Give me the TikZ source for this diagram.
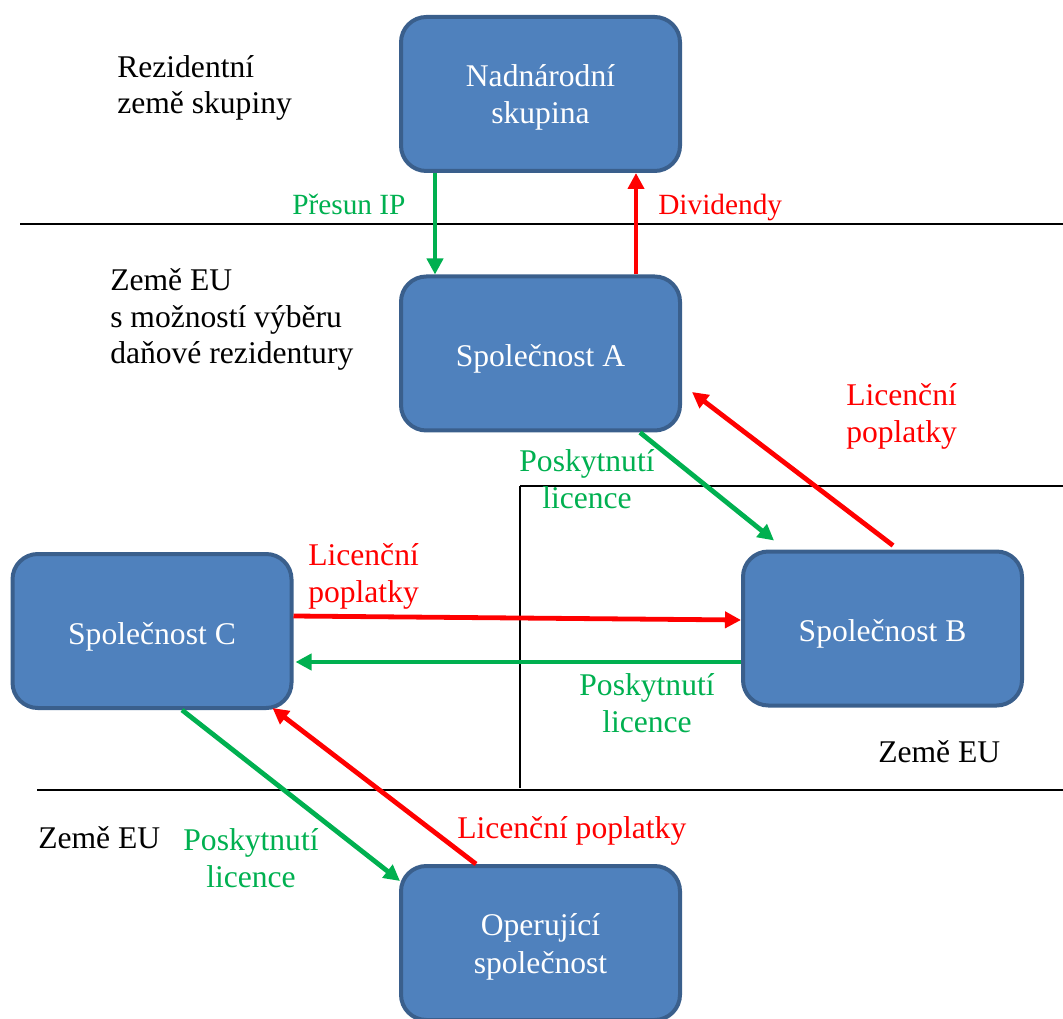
\documentclass[tikz,border=0pt]{standalone}
\usepackage{fontspec}
\setmainfont{Liberation Serif}
\usetikzlibrary{arrows.meta,calc}
\definecolor{boxfill}{RGB}{79,129,189}
\definecolor{boxline}{RGB}{58,95,140}
\definecolor{licgreen}{RGB}{0,176,80}
\definecolor{feered}{RGB}{255,0,0}

\begin{document}
\begin{tikzpicture}[x=0.75pt,y=-0.75pt,
  entity/.style={draw=boxline, line width=3pt, fill=boxfill,
    rounded corners=19pt, minimum width={279*0.75pt}, minimum height={154*0.75pt},
    text=white, align=center, inner sep=0pt,
    font=\fontsize{23.7}{27.8}\selectfont},
  oneline/.style={text height=24.8pt, text depth=5.2pt},
  twoline/.style={text height=50.2pt, text depth=5.2pt},
  lbl/.style={inner sep=0pt, font=\fontsize{23.7}{27.6}\selectfont},
  smalllbl/.style={inner sep=0pt, font=\fontsize{22}{26}\selectfont},
  flow/.style={line width=3.6pt, -{Triangle[length=12pt,width=12pt]}},
  licflow/.style={flow, draw=licgreen},
  feeflow/.style={flow, draw=feered},
  border/.style={line width=1.6pt, draw=black}
]
\useasboundingbox (0,0) rectangle (1063,1019);

% country borders
\draw[border] (20,224) -- (1063,224);
\draw[border] (520,486) -- (1063,486);
\draw[border] (520,486) -- (520,788);
\draw[border] (37,790) -- (1063,790);

% companies
\node[entity, twoline] (grp) at (540.5,94)    {Nadnárodní\\skupina};
\node[entity, oneline] (A)   at (540.5,353.5) {Společnost A};
\node[entity, oneline] (B)   at (882.5,628.5) {Společnost B};
\node[entity, oneline] (C)   at (152,631)     {Společnost C};
\node[entity, twoline] (op)  at (540.5,943)   {Operující\\společnost};

% flows
\draw[licflow] ($(grp.south)+(-105.5,0)$) -- ($(A.north)+(-105.5,0)$);
\draw[feeflow] ($(A.north)+(95.5,0)$) -- ($(grp.south)+(95.5,0)$);
\draw[licflow] ($(A.south)+(99.5,0)$) -- ($(B.north west)+(33,-9)$);
\draw[feeflow] ($(B.north)+(10.5,-4)$) -- ($(A.east)+(10,38.5)$);
\draw[feeflow] ($(C.east)+(0,-15)$) -- ($(B.west)+(0,-8.5)$);
\draw[licflow] ($(B.west)+(0,33.5)$) -- ($(C.east)+(2,31)$);
\draw[licflow] ($(C.south)+(30,0)$) -- ($(op.north west)+(1,17)$);
\draw[feeflow] ($(op.north)+(-64.5,0)$) -- ($(C.south east)+(-21,-2)$);

% region captions (multi-line nodes sit on their last baseline)
\node[lbl, anchor=base west, align=left] (rgrp) at (117,114) {Rezidentní\\země skupiny};
\node[lbl, anchor=base west, align=left] (reu1) at (110,364) {Země EU\\s možností výběru\\daňové rezidentury};
\node[lbl, anchor=base west] (reu2) at (878,762) {Země EU};
\node[lbl, anchor=base west] (reu3) at (38,848) {Země EU};

% flow captions
\node[smalllbl, anchor=base west, text=licgreen] (tip) at (292,215) {Přesun IP};
\node[smalllbl, anchor=base west, text=feered] (tdiv) at (658,215) {Dividendy};
\node[lbl, anchor=base west, align=left, text=feered] (tfee1) at (846,442) {Licenční\\poplatky};
\node[lbl, anchor=base, align=center, text=licgreen] (tlic1) at (587,508) {Poskytnutí\\licence};
\node[lbl, anchor=base west, align=left, text=feered] (tfee2) at (308,602) {Licenční\\poplatky};
\node[lbl, anchor=base, align=center, text=licgreen] (tlic2) at (647,732) {Poskytnutí\\licence};
\node[lbl, anchor=base, align=center, text=licgreen] (tlic3) at (251,887) {Poskytnutí\\licence};
\node[lbl, anchor=base west, text=feered] (tfee3) at (457,838) {Licenční poplatky};
\end{tikzpicture}
\end{document}
